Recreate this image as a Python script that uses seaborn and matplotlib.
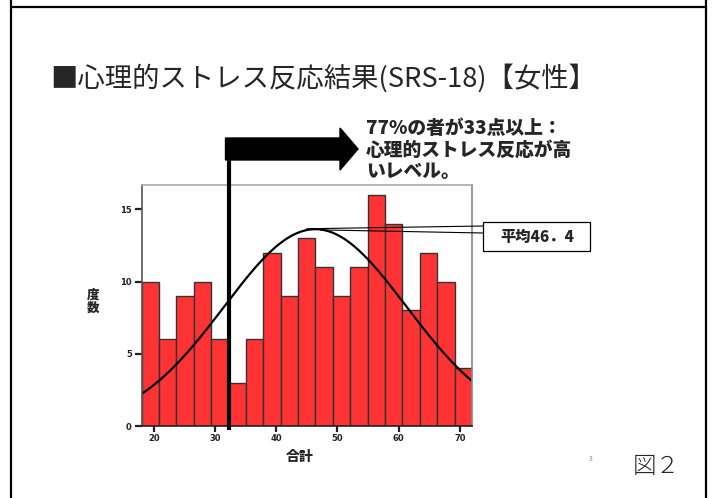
import numpy as np
import pandas as pd
import matplotlib
matplotlib.use("Agg")
import matplotlib.pyplot as plt
import matplotlib.transforms as mtransforms
from matplotlib.patches import Polygon, Rectangle
from matplotlib.lines import Line2D
import seaborn as sns

# --- data -------------------------------------------------------------
counts = [10, 6, 9, 10, 6, 3, 6, 12, 9, 13, 11, 9, 11, 16, 14, 8, 12, 10, 4]
bin_start, bin_end = 18.0, 72.0
mean_score = 46.4
sd_score = 14.9
cutoff = 32.3
x_ticks = [20, 30, 40, 50, 60, 70]
y_ticks = [0, 5, 10, 15]

title = "■心理的ストレス反応結果(SRS-18)【女性】"
note = "77%の者が33点以上：\n心理的ストレス反応が高\nいレベル。"
mean_label = "平均46．4"
x_label = "合計"
y_label = "度\n数"

# --- style ------------------------------------------------------------
sns.set_style("white")
plt.rcParams["font.family"] = ["Noto Sans CJK JP", "DejaVu Sans"]

W, H = 712, 498
fig = plt.figure(figsize=(W / 100, H / 100), dpi=100)


def fx(px):
    return px / W


def fy(py):
    return 1 - py / H


ax = fig.add_axes([fx(141.5), fy(426), fx(472) - fx(141.5), fy(184.7) - fy(426)])

edges = np.linspace(bin_start, bin_end, len(counts) + 1)
centers = (edges[:-1] + edges[1:]) / 2
hist_df = pd.DataFrame({"score": centers, "count": counts})
sns.histplot(data=hist_df, x="score", weights="count", bins=edges.tolist(), ax=ax,
             color="#FF3333", alpha=1.0, edgecolor="#333333", linewidth=1.0)

# fitted normal curve scaled to the histogram
n_total = sum(counts)
bw = edges[1] - edges[0]
xs = np.linspace(bin_start, bin_end, 300)
ys = n_total * bw / (sd_score * np.sqrt(2 * np.pi)) * np.exp(-(xs - mean_score) ** 2 / (2 * sd_score ** 2))
sns.lineplot(x=xs, y=ys, ax=ax, color="black", linewidth=1.6)

ax.set_xlim(bin_start, bin_end)
ax.set_ylim(0, 16.7)
ax.set_xticks(x_ticks)
ax.set_yticks(y_ticks)
ax.set_xlabel("")
ax.set_ylabel("")
ax.tick_params(axis="both", labelsize=6, colors="#222222", length=4, width=1.6,
               direction="out", pad=2)
ax.tick_params(axis="x", bottom=True, length=4)
ax.tick_params(axis="y", left=True, length=5)
for lab in ax.get_xticklabels() + ax.get_yticklabels():
    lab.set_fontfamily("DejaVu Sans")
    lab.set_fontweight("bold")
for side, col in [("left", "#555555"), ("bottom", "#222222"), ("top", "#aaaaaa"), ("right", "#888888")]:
    ax.spines[side].set_visible(True)
    ax.spines[side].set_color(col)
    ax.spines[side].set_linewidth(1.2)

# threshold line running up into the arrow
trans = mtransforms.blended_transform_factory(ax.transData, ax.transAxes)
ax.plot([cutoff, cutoff], [-0.017, 1.15], transform=trans, color="black",
        linewidth=3.0, clip_on=False, solid_capstyle="butt", zorder=5)
x_cut_px = ax.transData.transform((cutoff, 0))[0]
x_cut_fig = x_cut_px / W
arrow_pts = [(x_cut_fig - fx(3.5), fy(138)), (fx(340), fy(138)), (fx(340), fy(128)),
             (fx(358), fy(149)), (fx(340), fy(170)), (fx(340), fy(160)),
             (x_cut_fig - fx(3.5), fy(160))]
fig.add_artist(Polygon(arrow_pts, closed=True, facecolor="black", edgecolor="black",
                       transform=fig.transFigure))

fig.text(fx(366), fy(150), note, fontsize=13.5, fontweight="black", ha="left",
         va="center", linespacing=1.15)

# callout from the curve peak to the mean label
peak = ys.max()
p1 = fig.transFigure.inverted().transform(ax.transData.transform((45.0, peak + 0.03)))
p2 = fig.transFigure.inverted().transform(ax.transData.transform((47.3, peak - 0.05)))
fig.add_artist(Line2D([p1[0], fx(483)], [p1[1], fy(226)], color="black", lw=0.8,
                      transform=fig.transFigure))
fig.add_artist(Line2D([p2[0], fx(483)], [p2[1], fy(233)], color="black", lw=0.8,
                      transform=fig.transFigure))
fig.add_artist(Rectangle((fx(483), fy(251)), fx(590) - fx(483), fy(222) - fy(251),
                         facecolor="white", edgecolor="black", linewidth=0.9,
                         transform=fig.transFigure))
fig.text(fx(537), fy(237), mean_label, fontsize=11, fontweight="black", ha="center",
         va="center")

# axis titles
fig.text(fx(300), fy(457), x_label, fontsize=10, fontweight="black", ha="center", va="center")
fig.text(fx(93), fy(301), y_label, fontsize=9, fontweight="black", ha="center", va="center",
         linespacing=1.0)

# slide title and footer
fig.text(fx(50), fy(78), title, fontsize=19.7, ha="left", va="center")
fig.text(fx(591), fy(459), "3", fontsize=5, color="#888888", ha="center", va="center")
fig.text(fx(656), fy(466), "図２", fontsize=17, fontweight="light", ha="center", va="center")

# slide frame
fig.add_artist(Line2D([fx(10.5), fx(10.5)], [0, 1], color="black", lw=1.6, transform=fig.transFigure))
fig.add_artist(Line2D([fx(705.5), fx(705.5)], [0, 1], color="black", lw=1.6, transform=fig.transFigure))
fig.add_artist(Line2D([fx(10.5), fx(705.5)], [fy(7.5), fy(7.5)], color="black", lw=1.6,
                      transform=fig.transFigure))

fig.savefig("out.png", dpi=100)
